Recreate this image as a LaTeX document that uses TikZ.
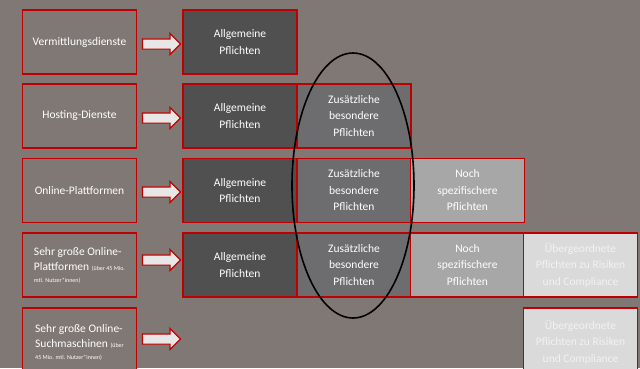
\documentclass[tikz,border=0pt]{standalone}
\usepackage{fontspec}
\setmainfont{Carlito}
\usetikzlibrary{shapes.arrows}
\definecolor{bgcol}{HTML}{7F7874}
\definecolor{framered}{HTML}{C00000}
\definecolor{darkfill}{HTML}{505050}
\definecolor{midfill}{HTML}{6D6D6F}
\definecolor{lightfill}{HTML}{A7A7A7}
\definecolor{palefill}{HTML}{DADADA}
\definecolor{paletext}{HTML}{F2F2F2}
\definecolor{arrowfill}{HTML}{E8E6E6}
\tikzset{
  x=1pt, y=-1pt,
  cell/.style={draw=framered, line width=1.6pt, minimum width=114pt, minimum height=64pt,
    inner sep=2pt, text=white, align=center, font=\fontsize{11.5}{16.5}\selectfont},
  service/.style={cell, fill=bgcol},
  general/.style={cell, fill=darkfill},
  extra/.style={cell, fill=midfill},
  specific/.style={cell, fill=lightfill},
  overall/.style={cell, fill=palefill, text=paletext},
  blockarrow/.style={single arrow, draw=framered, fill=arrowfill, line width=1.2pt,
    minimum height=38pt, inner sep=4.5pt, single arrow head extend=5.5pt},
  small/.style={font=\fontsize{6}{8}\selectfont}
}
\begin{document}
\begin{tikzpicture}
\useasboundingbox (0,0) rectangle (640,368);
\clip (0,0) rectangle (640,368);
\fill[bgcol] (0,0) rectangle (640,368);

% service categories
\node[service] (s1) at (79.5,42) {Vermittlungsdienste};
\node[service] (s2) at (79.5,116) {Hosting-Dienste};
\node[service] (s3) at (79.5,190.5) {Online-Plattformen};
\node[service, align=left] (s4) at (79.5,265)
  {Sehr große Online-\\[-1pt]Plattformen {\fontsize{6}{8}\selectfont (über 45 Mio.}\\[-5pt]{\fontsize{6}{8}\selectfont mtl. Nutzer*innen)}};
\node[service, align=left, minimum height=68pt] (s5) at (79.5,342)
  {Sehr große Online-\\[-1pt]Suchmaschinen {\fontsize{6}{8}\selectfont (über}\\[-5pt]{\fontsize{6}{8}\selectfont 45 Mio. mtl. Nutzer*innen)}};

% arrows
\node[blockarrow] (a1) at (159,44) {};
\node[blockarrow] (a2) at (159,118) {};
\node[blockarrow] (a3) at (159,192) {};
\node[blockarrow] (a4) at (159,260) {};
\node[blockarrow] (a5) at (159,339) {};

% general obligations
\node[general] (g1) at (240,42) {Allgemeine\\Pflichten};
\node[general] (g2) at (240,116) {Allgemeine\\Pflichten};
\node[general] (g3) at (240,190.5) {Allgemeine\\Pflichten};
\node[general] (g4) at (240,265) {Allgemeine\\Pflichten};

% additional obligations
\node[extra] (e2) at (354,116) {Zusätzliche\\besondere\\Pflichten};
\node[extra] (e3) at (354,190.5) {Zusätzliche\\besondere\\Pflichten};
\node[extra] (e4) at (354,265) {Zusätzliche\\besondere\\Pflichten};

% more specific obligations
\node[specific] (p3) at (467.5,190.5) {Noch\\spezifischere\\Pflichten};
\node[specific] (p4) at (467.5,265) {Noch\\spezifischere\\Pflichten};

% overarching obligations
\node[overall] (o4) at (580.5,265) {Übergeordnete\\Pflichten zu Risiken\\und Compliance};
\node[overall, minimum height=68pt] (o5) at (580.5,342) {Übergeordnete\\Pflichten zu Risiken\\und Compliance};

% highlight ring
\draw[black, line width=1.6pt] (353,185.5) ellipse [x radius=61, y radius=132.5];
\end{tikzpicture}
\end{document}
